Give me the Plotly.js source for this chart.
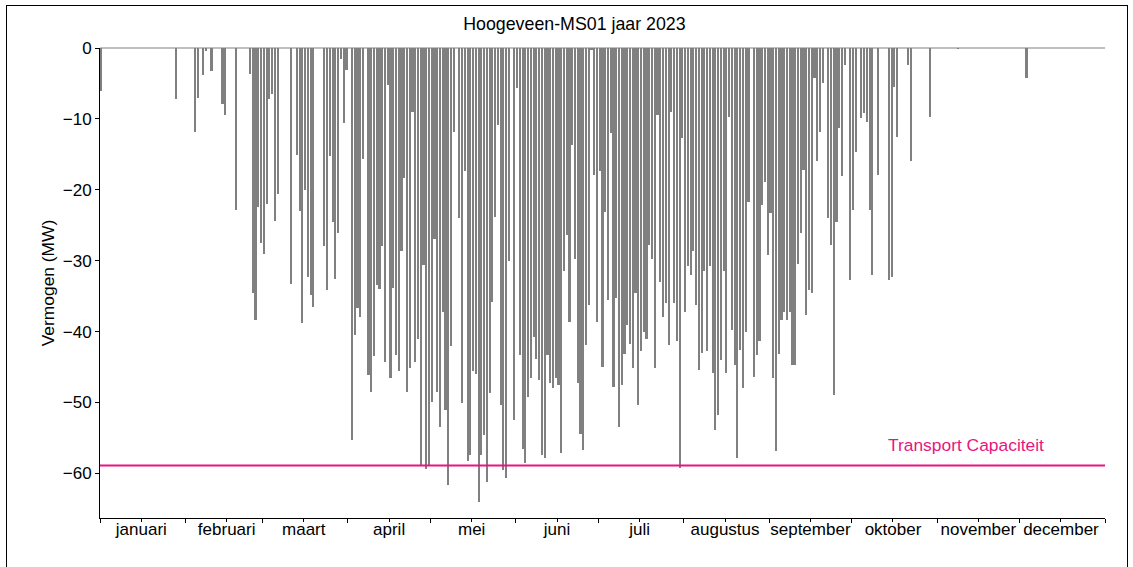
<!DOCTYPE html>
<html>
<head>
<meta charset="utf-8">
<script src="https://cdn.plot.ly/plotly-3.0.1.min.js"></script>
<style>
  html, body { margin: 0; padding: 0; background: #fff; }
  #wrap { position: relative; width: 1133px; height: 567px; overflow: hidden; }
  #chart { width: 1133px; height: 567px; }
  #frame { position: absolute; left: 6px; top: 5px; width: 1122px; height: 600px;
           border: 1px solid #000; pointer-events: none; box-sizing: border-box; }
</style>
</head>
<body>
<div id="wrap">
  <div id="chart"></div>
  <div id="frame"></div>
</div>
<script>
// ---- data -------------------------------------------------------------
const chartTitle = 'Hoogeveen-MS01 jaar 2023';
const yTitle = 'Vermogen (MW)';
const year = 2023;

// daily peak power (MW), one value per day of 2023 (negative = teruglevering)
const dailyPeak = [
  -6, 0, 0, 0, 0, 0, 0, 0, 0, 0,
  0, 0, 0, 0, 0, 0, 0, 0, 0, 0,
  0, 0, 0, 0, 0, 0, 0, -7.2, 0, 0,
  0, 0, 0, 0, -11.8, -7.1, 0, -3.8, -0.4, 0,
  -3.2, 0, 0, 0, -7.9, -9.4, 0, 0, 0, -22.9,
  0, 0, 0, 0, -3.6, -34.5, -38.3, -22.4, -27.5, -29.1,
  -22, -7.2, -6.5, -24.4, -20.6, 0, 0, 0, 0, -33.3,
  0, -15.1, -23, -38.8, -20, -32.3, -34.9, -36.5, 0, 0,
  0, -28, -34.2, -15.3, -24.5, -32.6, -26.1, -1.5, -10.6, -3.1,
  0, -55.3, -40.5, -36.7, -37.9, -15.6, 0, -46.1, -48.5, -43.5,
  -33.4, -34, -28, -44.3, -5.2, -46.6, -33.9, -43.3, -45.6, -28.7,
  -18.4, -48.5, -45.2, -9, -44.3, -41, -58.8, -30.6, -59.4, -59,
  -49.9, -27, -48.5, -53.4, -37.2, -51, -61.6, -42.1, -11.8, 0,
  -24, -50.1, -17.4, -58.3, -57.4, -45.6, -46, -64, -57.4, -54.6,
  -61.2, -48.7, -35.8, -23.8, -10.9, -50.4, -59.5, -60.6, -30, 0,
  -52.5, -5.7, -43.3, -56.5, -58.6, -49.2, -46.6, -40.7, -43.8, -46.8,
  -57.4, -57.9, -43.3, -47.3, -48, -46.6, -47.5, -57.2, -31.5, -26.4,
  -38.6, -13.7, -29.7, -47.3, -54.4, -56.7, -41.9, -36.2, -0.3, -17.9,
  -38.6, -17.4, -45, -23.1, -35.6, -12, -47.8, -35.3, -53.4, -47.5,
  -43.1, -39.1, -41.7, -45.2, -34.6, -50.4, -42.8, -40, -41, -27.8,
  -29.7, -45.2, -9.4, -33, -37.9, -36, -41.9, -9, -36, -41.4,
  -59.3, -12.7, -37.2, -30.8, -32, -28.7, -36.2, -45.4, -43, -31.5,
  -42.8, -30.8, -45.9, -53.9, -51.8, -44, -31.5, -45.9, -9.7, -39.8,
  -44.7, -57.9, -42.6, -48, -40, -21.7, 0, -46.4, -43.3, -41.4,
  -22.1, -18.9, -29.2, -23.3, -46.6, -56.9, -43.1, -38.4, -37.2, -38.4,
  -37.2, -44.7, -44.7, -30.4, -26.1, -17.2, -37.7, -34.1, -34.6, -4.3,
  -16, -11.8, -5, 0, -24, -27.8, -49, -24.5, -11.3, -18.1,
  -2.4, 0, -32.7, -22.8, -14.6, 0, -9.9, -9.2, -10.4, -22.8,
  -32, 0, -17.9, 0, 0, 0, -32.7, -32.3, -5.5, -12.5,
  0, 0, 0, -2.4, -16, 0, 0, 0, 0, 0,
  0, -9.7, 0, 0, 0, 0, 0, 0, 0, 0,
  0, -0.2, 0, 0, 0, 0, 0, 0, 0, 0,
  0, 0, 0, 0, 0, 0, 0, 0, 0, 0,
  0, 0, 0, 0, 0, 0, -4.3, 0, 0, 0,
  0, 0, 0, 0, 0, 0, 0, 0, 0, 0,
  0, 0, 0, 0, 0, 0, 0, 0, 0, 0,
  0, 0, 0, 0, 0
];

const capacityLabel = 'Transport Capaciteit';
const capacity = -58.9;

const monthNames = ['januari', 'februari', 'maart', 'april', 'mei', 'juni',
  'juli', 'augustus', 'september', 'oktober', 'november', 'december'];
const monthLabelDates = ['2023-01-16', '2023-02-16', '2023-03-16', '2023-04-16',
  '2023-05-16', '2023-06-16', '2023-07-16', '2023-08-16', '2023-09-16',
  '2023-10-16', '2023-11-16', '2023-12-16'];
const yTicks = [0, -10, -20, -30, -40, -50, -60];

// ---- build -------------------------------------------------------------
function pad(n) { return (n < 10 ? '0' : '') + n; }
const dayDates = dailyPeak.map((v, i) => {
  const d = new Date(Date.UTC(year, 0, 1 + i, 12));
  return d.getUTCFullYear() + '-' + pad(d.getUTCMonth() + 1) + '-' + pad(d.getUTCDate()) + ' 12:00';
});
const xStart = year + '-01-01';
const xEnd = (year + 1) + '-01-01';

const FONT = 'Liberation Sans, Arial, sans-serif';
const PINK = '#e8157f';
const GRAY = '#808080';

const traces = [
  {
    type: 'bar',
    x: dayDates,
    y: dailyPeak,
    width: 0.78 * 86400000,
    marker: { color: GRAY, line: { width: 0 } },
    hoverinfo: 'x+y',
    showlegend: false
  },
  {
    type: 'scatter',
    mode: 'lines',
    x: [xStart, xEnd],
    y: [capacity, capacity],
    line: { color: PINK, width: 2 },
    showlegend: false,
    hoverinfo: 'skip'
  }
];

const layout = {
  width: 1133,
  height: 567,
  paper_bgcolor: '#fff',
  plot_bgcolor: '#fff',
  margin: { l: 100, r: 28, t: 48, b: 49, pad: 0 },
  font: { family: FONT, size: 17, color: '#000' },
  bargap: 0,
  title: {
    text: chartTitle,
    font: { family: FONT, size: 17.8, color: '#000' },
    x: 0.507, xref: 'container', xanchor: 'center',
    y: 0.958, yref: 'container', yanchor: 'middle'
  },
  xaxis: {
    type: 'date',
    range: [xStart, xEnd],
    showgrid: false,
    zeroline: false,
    showline: true,
    linecolor: '#000',
    linewidth: 1,
    tickmode: 'array',
    tickvals: monthLabelDates,
    ticktext: monthNames,
    ticks: 'outside',
    ticklen: 3,
    tickcolor: '#000',
    ticklabelstandoff: -7,
    tickfont: { family: FONT, size: 17, color: '#000' },
    minor: { tick0: xStart, dtick: 'M1', ticks: 'outside', ticklen: 4, tickcolor: '#000', showgrid: false },
    fixedrange: true
  },
  yaxis: {
    range: [-66.3, 0],
    showgrid: false,
    zeroline: false,
    showline: true,
    linecolor: '#000',
    linewidth: 1,
    tickmode: 'array',
    tickvals: yTicks,
    ticks: 'outside',
    ticklen: 4,
    tickcolor: '#000',
    tickfont: { family: FONT, size: 17, color: '#000' },
    title: { text: yTitle, font: { family: FONT, size: 17.4, color: '#000' }, standoff: 3 },
    fixedrange: true
  },
  shapes: [
    { type: 'line', xref: 'paper', yref: 'paper', x0: 0, x1: 1, y0: 1, y1: 1,
      line: { color: GRAY, width: 1 }, layer: 'above' }
  ],
  annotations: [
    { text: capacityLabel, xref: 'paper', yref: 'y', x: 0.9415, y: -56.0,
      xanchor: 'right', yanchor: 'middle', showarrow: false,
      font: { family: FONT, size: 17.4, color: PINK } }
  ]
};

Plotly.newPlot('chart', traces, layout, { displayModeBar: false, staticPlot: true });
</script>
</body>
</html>
